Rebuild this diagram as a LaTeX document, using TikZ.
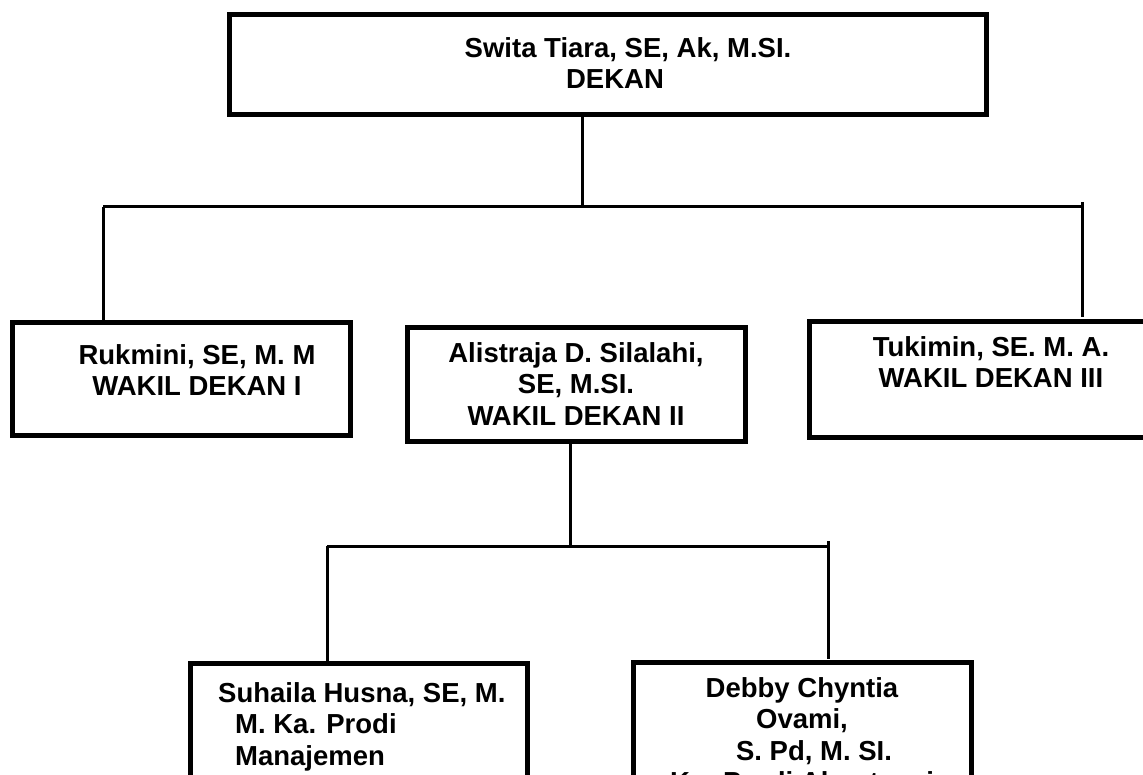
\documentclass[tikz,border=0pt]{standalone}
\usepackage{fontspec}
\setmainfont{Liberation Sans}

\begin{document}
\begin{tikzpicture}[x=1pt, y=-1pt,
  box/.style={draw, line width=5pt, inner sep=0pt, outer sep=0pt},
  txt/.style={font=\bfseries\fontsize{27.5}{31.5}\selectfont, inner sep=0pt, anchor=north},
  conn/.style={line width=3pt}]
  \useasboundingbox (0,0) rectangle (1143,775);
  \clip (0,0) rectangle (1143,775);

  % boxes
  \node[box, minimum width=757pt, minimum height=100pt] (dekan) at (608,64.5) {};
  \node[box, minimum width=338pt, minimum height=113pt] (wd1) at (181.5,379) {};
  \node[box, minimum width=338pt, minimum height=114pt] (wd2) at (576.5,384.5) {};
  \node[box, minimum width=368pt, minimum height=116pt] (wd3) at (993.5,379.5) {};
  \node[box, minimum width=337pt, minimum height=137pt] (kpm) at (359,732) {};
  \node[box, minimum width=338pt, minimum height=138pt] (kpa) at (802.5,731.5) {};

  % texts
  \node[txt, align=center] (t0) at (628,37) {Swita Tiara, SE, Ak, M.SI.\\DEKAN\hspace*{26pt}};
  \node[txt, align=center] (t1) at (197,344) {Rukmini, SE, M. M\\WAKIL DEKAN I};
  \node[txt, align=center] (t2) at (576,342) {Alistraja D. Silalahi,\\SE, M.SI.\\WAKIL DEKAN II};
  \node[txt, align=center] (t3) at (991,336) {Tukimin, SE. M. A.\\WAKIL DEKAN III};
  \node[txt, align=left, anchor=north west] (t4) at (218,682)
    {Suhaila Husna, SE, M.\\\hspace*{17pt}M. Ka. Prodi\\\hspace*{17pt}Manajemen};
  \node[txt, align=center] (t5) at (802,677)
    {Debby Chyntia\\Ovami,\\\hspace*{24pt}S. Pd, M. SI.\\Ka. Prodi Akuntansi};

  % connectors
  \coordinate (hub1) at (582,207);
  \coordinate (bar1L) at (103,207);
  \coordinate (bar1R) at (1082,207);
  \draw[conn] (hub1 |- dekan.south) -- (hub1);
  \draw[conn] (bar1L) -- (bar1R);
  \draw[conn] (bar1L) -- (bar1L |- wd1.north);
  \draw[conn, shorten >=4pt] ([yshift=5pt]bar1R) -- (bar1R |- wd3.north);

  \coordinate (hub2) at (570,546);
  \coordinate (bar2L) at (327,546);
  \coordinate (bar2R) at (828,546);
  \draw[conn] (hub2 |- wd2.south) -- (hub2);
  \draw[conn] (bar2L) -- (bar2R);
  \draw[conn] (bar2L) -- (bar2L |- kpm.north);
  \draw[conn, shorten >=4pt] ([yshift=5pt]bar2R) -- (bar2R |- kpa.north);
\end{tikzpicture}
\end{document}
